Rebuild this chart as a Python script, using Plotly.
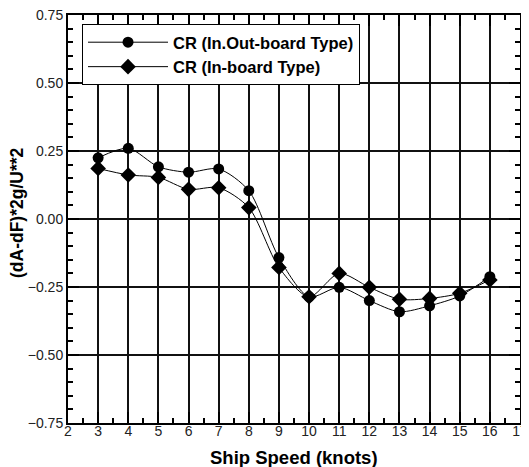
import plotly.graph_objects as go

speed = [3, 4, 5, 6, 7, 8, 9, 10, 11, 12, 13, 14, 15, 16]
cr_inout = [0.225, 0.26, 0.192, 0.172, 0.184, 0.104, -0.142, -0.286, -0.251, -0.300, -0.341, -0.319, -0.283, -0.212]
cr_in = [0.186, 0.162, 0.153, 0.109, 0.115, 0.042, -0.178, -0.286, -0.200, -0.251, -0.295, -0.292, -0.273, -0.224]

fig = go.Figure()
fig.add_trace(go.Scatter(x=speed, y=cr_inout, mode="lines+markers", name="<b>CR (In.Out-board Type)</b>",
                         line=dict(color="black", width=1, shape="spline", smoothing=0.8),
                         marker=dict(symbol="circle", size=11, color="black")))
fig.add_trace(go.Scatter(x=speed, y=cr_in, mode="lines+markers", name="<b>CR (In-board Type)</b>",
                         line=dict(color="black", width=1, shape="spline", smoothing=0.8),
                         marker=dict(symbol="diamond", size=12, color="black")))

axis_common = dict(showline=True, linecolor="black", linewidth=2, mirror="ticks",
                   ticks="inside", tickcolor="black", ticklen=11, tickwidth=2,
                   showgrid=True, gridcolor="#111", gridwidth=1.5, zeroline=False,
                   automargin=False, ticklabeloverflow="allow",
                   tickfont=dict(family="Arial", size=14, color="#222"))

fig.update_xaxes(range=[2, 17], tick0=2, dtick=1, ticklabelstandoff=-6,
                 minor=dict(dtick=0.5, ticks="inside", ticklen=5, tickcolor="black", showgrid=False),
                 **axis_common)
fig.update_yaxes(range=[-0.75, 0.75], tick0=-0.75, dtick=0.25, tickformat=".2f",
                 minor=dict(dtick=0.05, ticks="inside", ticklen=5, tickcolor="black", showgrid=False),
                 **axis_common)

fig.add_annotation(text="<b>Ship Speed (knots)</b>", xref="paper", yref="paper", x=0.5, y=0,
                   xanchor="center", yanchor="middle", yshift=-34, showarrow=False,
                   font=dict(family="Arial", size=18.5, color="black"))
fig.add_annotation(text="<b>(dA-dF)*2g/U**2</b>", xref="paper", yref="paper", x=0, y=0.5,
                   xanchor="center", yanchor="middle", xshift=-51, yshift=6, textangle=-90,
                   showarrow=False, font=dict(family="Arial", size=17.5, color="black"))

fig.update_layout(width=521, height=459, margin=dict(l=60, r=9, t=7, b=44),
                  plot_bgcolor="white", paper_bgcolor="white",
                  legend=dict(x=0.031, y=0.978, xanchor="left", yanchor="top",
                              bordercolor="black", borderwidth=1, bgcolor="white",
                              itemwidth=80, tracegroupgap=0,
                              font=dict(family="Arial", size=16.5, color="black")),
                  font=dict(family="Arial"))
fig.write_html("out.html")
